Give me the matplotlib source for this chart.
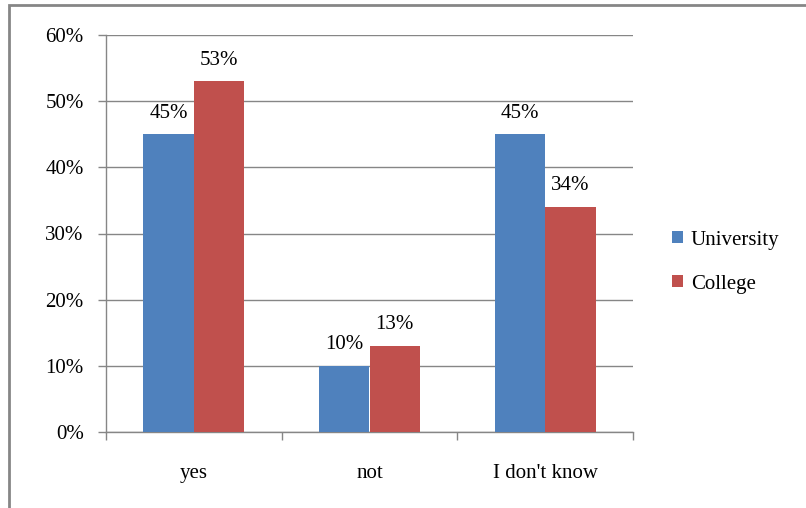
import matplotlib.pyplot as plt
import numpy as np
from matplotlib.patches import Rectangle
from matplotlib.ticker import FuncFormatter

categories = ["yes", "not", "I don't know"]
university = [45, 10, 45]
college = [53, 13, 34]
series_names = ["University", "College"]

BLUE = "#4F81BD"
RED = "#C0504D"
GRAY = "#868686"
FS = 15

plt.rcParams['font.family'] = ['Liberation Serif', 'DejaVu Serif']
plt.rcParams['font.size'] = FS

fig = plt.figure(figsize=(8.06, 5.08), dpi=100)
ax = fig.add_axes([106 / 806, 1 - 432 / 508, 527 / 806, 397 / 508])

# frame around the chart (cut off at the right and bottom)
fig.patches.append(Rectangle((9 / 806, -0.1), 1.2, 1 - 5 / 508 + 0.1,
                             transform=fig.transFigure, fill=False,
                             edgecolor=GRAY, linewidth=2))

x = np.arange(len(categories))
w = 0.2875
b1 = ax.bar(x - w / 2, university, w, color=BLUE, label=series_names[0], zorder=3)
b2 = ax.bar(x + w / 2, college, w, color=RED, label=series_names[1], zorder=3)

for bars, vals in ((b1, university), (b2, college)):
    for rect, v in zip(bars, vals):
        ax.annotate(f"{v}%", (rect.get_x() + rect.get_width() / 2, v),
                    xytext=(0, 12), textcoords="offset points",
                    ha="center", va="baseline", fontsize=FS)

ax.set_xlim(-0.5, 2.5)
ax.set_ylim(0, 60)
ax.set_yticks(range(0, 61, 10))
ax.yaxis.set_major_formatter(FuncFormatter(lambda v, p: f"{v:.0f}%"))
ax.grid(True, axis='y', color=GRAY, linewidth=1, zorder=0)

ax.set_xticks(x)
ax.set_xticklabels(categories)
ax.set_xticks([-0.5, 0.5, 1.5, 2.5], minor=True)
ax.tick_params(axis='x', which='major', length=0, pad=23)
ax.tick_params(axis='x', which='minor', length=6, color=GRAY, width=1)
ax.tick_params(axis='y', length=6, color=GRAY, width=1, pad=10)

for s in ("top", "right"):
    ax.spines[s].set_visible(False)
for s in ("left", "bottom"):
    ax.spines[s].set_color(GRAY)
    ax.spines[s].set_linewidth(1)

fig.legend(handles=[b1, b2], labels=series_names, loc="center left",
           bbox_to_anchor=(672 / 806, 1 - 262 / 508), frameon=False,
           borderpad=0, borderaxespad=0,
           handlelength=0.55, handleheight=0.55, handletextpad=0.35,
           labelspacing=1.2, fontsize=FS)

fig.savefig("out.png", dpi=100)
